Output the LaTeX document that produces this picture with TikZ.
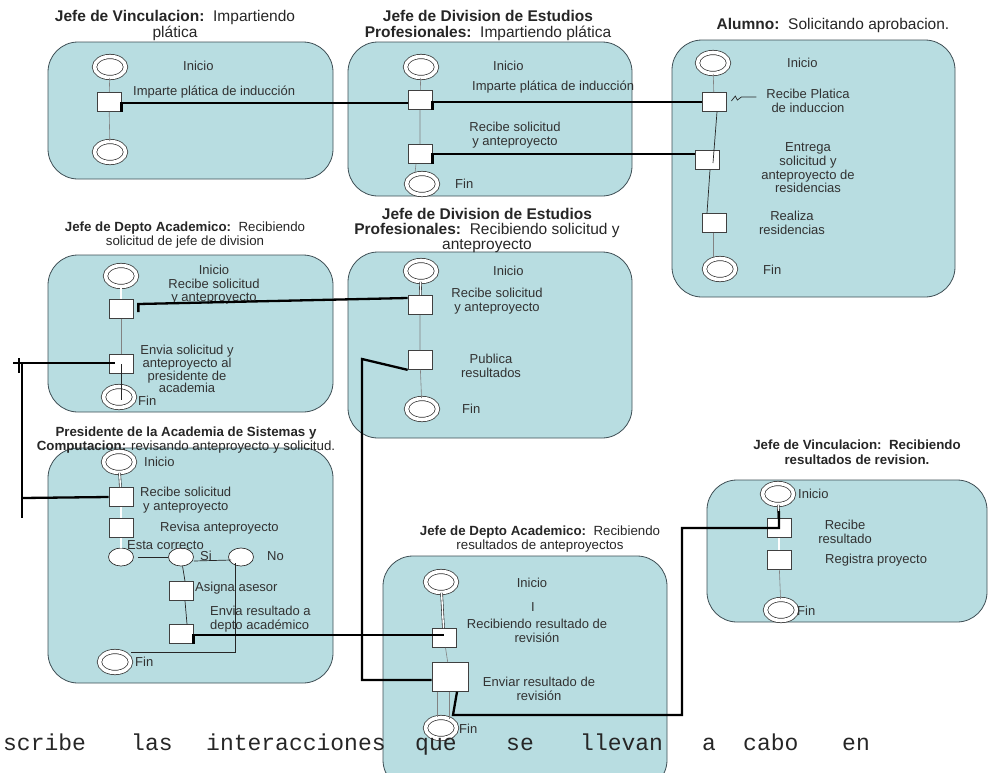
\documentclass[tikz,border=0pt]{standalone}
\usepackage{fontspec}
\setmainfont{Liberation Sans}
\newfontfamily\monofont{Liberation Mono}
\usetikzlibrary{shapes.geometric,calc}
\definecolor{panelfill}{RGB}{184,221,225}
\definecolor{panelline}{RGB}{62,78,84}
\definecolor{labeltext}{RGB}{50,50,50}
\definecolor{lifegray}{RGB}{130,130,130}
\begin{document}
\begin{tikzpicture}[x=1pt,y=-1pt,
  panel/.style={draw=panelline, fill=panelfill, line width=0.8pt, rounded corners=30pt},
  act/.style={rectangle, draw=black!75, fill=white, line width=0.7pt,
    minimum width=24pt, minimum height=19pt, inner sep=0pt},
  bigact/.style={act, minimum width=36pt, minimum height=29pt},
  term/.style={ellipse, draw=black!80, fill=white, line width=0.75pt,
    double=white, double distance=3.6pt, minimum width=31pt, minimum height=21pt, inner sep=0pt},
  choice/.style={ellipse, draw=black!80, fill=white, line width=0.7pt,
    minimum width=25pt, minimum height=18pt, inner sep=0pt},
  lbl/.style={text=labeltext, font=\fontsize{13}{13.5}\selectfont, inner sep=0pt, align=center},
  lbll/.style={lbl, anchor=west, align=left},
  ttl/.style={text=black!85, font=\fontsize{15.5}{16}\selectfont, inner sep=0pt, align=center},
  ttlsm/.style={text=black!85, font=\fontsize{13.3}{14.5}\selectfont, inner sep=0pt, align=center},
  words/.style={anchor=base west, inner sep=0pt, text=black!85, text height=11pt,
    font=\monofont\fontsize{23}{24}\selectfont},
  conn/.style={line width=2.3pt, black},
  life/.style={line width=0.6pt, lifegray},
  thinblk/.style={line width=0.7pt, black!85},
  dbl/.style={line width=0.6pt, black!85, double=white, double distance=1.4pt}
]
\useasboundingbox (0,0) rectangle (989,772);

% ---------- swimlane panels ----------
\path[panel] (48,42) rectangle (333,179);
\path[panel] (348,42) rectangle (632,196);
\path[panel] (672,40) rectangle (955,297);
\path[panel] (48,255) rectangle (333,412);
\path[panel] (348,252) rectangle (632,438);
\path[panel] (48,448) rectangle (333,683);
\path[panel] (707,480) rectangle (987,622);
\path[panel] (383,556) rectangle (667,790);

% ---------- titles ----------
\node[ttl] (t1) at (175,25) {\textbf{Jefe de Vinculacion:}\ \ Impartiendo\\plática};
\node[ttl] (t2) at (488,25) {\textbf{Jefe de Division de Estudios}\\\textbf{Profesionales:}\ \ Impartiendo plática};
\node[ttl] (t3) at (833,25) {\textbf{Alumno:}\ \ Solicitando aprobacion.};
\node[ttlsm] (t4) at (185,235) {\textbf{Jefe de Depto Academico:}\ \ Recibiendo\\solicitud de jefe de division};
\node[ttl, font=\fontsize{15.5}{15}\selectfont] (t5) at (487,230) {\textbf{Jefe de Division de Estudios}\\\textbf{Profesionales:}\ \ Recibiendo solicitud y\\anteproyecto};
\node[ttlsm] (t6) at (186,440) {\textbf{Presidente de la Academia de Sistemas y}\\\textbf{Computacion:} revisando anteproyecto y solicitud.};
\node[ttlsm] (t7) at (857,452) {\textbf{Jefe de Vinculacion:\ \ Recibiendo}\\\textbf{resultados de revision.}};
\node[ttlsm] (t8) at (540,539) {\textbf{Jefe de Depto Academico:}\ \ Recibiendo\\resultados de anteproyectos};

% ---------- panel 1 ----------
\node[term] (p1s) at (110,67) {};
\node[act]  (a1)  at (109,102) {};
\node[term] (p1e) at (110,152) {};
\node[lbll] (l1a) at (183,66) {Inicio};
\node[lbll] (l1b) at (133,92) {Imparte plática de inducción};
\draw[life] (p1s) -- (a1) -- (p1e);

% ---------- panel 2 ----------
\node[term] (p2s) at (421,67) {};
\node[act]  (a2)  at (420,100) {};
\node[act]  (a2b) at (420,154) {};
\node[term] (p2e) at (422,184) {};
\node[lbll] (l2a) at (493,66) {Inicio};
\node[lbll] (l2b) at (472,87) {Imparte plática de inducción};
\node[lbl]  (l2c) at (515,135) {Recibe solicitud\\y anteproyecto};
\node[lbll] (l2d) at (455,184) {Fin};
\draw[life] (p2s) -- (a2) -- (a2b);
\draw[life] ($(a2b.south)+(-4,0)$) -- ($(p2e.north)+(-7,0)$);

% ---------- panel 3 ----------
\node[term] (p3s) at (713,63) {};
\node[act]  (b1)  at (714,102) {};
\node[act]  (b2)  at (707,160) {};
\node[act]  (b3)  at (714,223) {};
\node[term] (p3e) at (720,269) {};
\node[lbll] (l3a) at (787,63) {Inicio};
\node[lbl]  (l3b) at (808,101) {Recibe Platica\\de induccion};
\node[lbl, font=\fontsize{13}{13.7}\selectfont] (l3c) at (808,168) {Entrega\\solicitud y\\anteproyecto de\\residencias};
\node[lbl]  (l3d) at (792,223) {Realiza\\residencias};
\node[lbll] (l3e) at (763,270) {Fin};
\draw[life] (p3s) -- (b1);
\draw[thinblk] ($(b1.south)+(3,0)$) -- ($(b2.center)+(6,3)$);
\draw[thinblk] ($(b2.south)+(3,0)$) -- ($(b3.north)+(-7,0)$);
\draw[life] ($(b3.south)+(-1,0)$) -- ($(p3e.north)+(-7,0)$);
\draw[thinblk] ($(b1.east)+(5,-1)$) -- ++(4,-5) -- ++(2,4) -- ++(4,-3) -- ++(15,0);

% ---------- panel 4 ----------
\node[term] (d0s) at (121,276) {};
\node[act]  (d1)  at (121,309) {};
\node[act]  (d2)  at (121,364) {};
\node[term] (d0e) at (119,397) {};
\node[lbl]  (l4a) at (214,285) {Inicio\\Recibe solicitud\\y anteproyecto};
\node[lbl, font=\fontsize{13}{12.7}\selectfont] (l4b) at (187,369) {Envia solicitud y\\anteproyecto al\\presidente de\\academia};
\node[lbll] (l4c) at (138,401) {Fin};
\draw[dbl] (d0s) -- (d1);
\draw[life] (d1) -- (d2);
\draw[thinblk] (d2.center) -- ($(d0e.center)+(2,3)$);

% ---------- panel 5 ----------
\node[term] (e0s) at (421,271) {};
\node[act]  (e1)  at (420,305) {};
\node[act]  (e2)  at (420,360) {};
\node[term] (e0e) at (422,409) {};
\node[lbll] (l5a) at (493,271) {Inicio};
\node[lbl]  (l5b) at (497,301) {Recibe solicitud\\y anteproyecto};
\node[lbl]  (l5c) at (491,366) {Publica\\resultados};
\node[lbll] (l5d) at (462,409) {Fin};
\draw[dbl] (e0s) -- (e1);
\draw[life] (e1) -- (e2) -- (e0e);

% ---------- panel 6 ----------
\node[term]   (f0s) at (119,462) {};
\node[act]    (f1)  at (121,497) {};
\node[act]    (f2)  at (121,528) {};
\node[choice] (k1)  at (121,557) {};
\node[choice] (k2)  at (181,557) {};
\node[choice] (k3)  at (241,557) {};
\node[act]    (f3)  at (181,591) {};
\node[act]    (f4)  at (181,634) {};
\node[term]   (f0e) at (115,662) {};
\node[lbll] (l6a) at (144,462) {Inicio};
\node[lbll] (l6b) at (140,500) {Recibe solicitud\\\hspace*{3pt}y anteproyecto};
\node[lbll] (l6c) at (160,528) {Revisa anteproyecto};
\node[lbll] (l6d) at (127,545) {Esta correcto};
\node[lbll] (l6e) at (200,556) {Si};
\node[lbll] (l6f) at (267,556) {No};
\node[lbll] (l6g) at (195,588) {Asigna asesor};
\node[lbll] (l6h) at (210,619) {Envia resultado a\\depto académico};
\node[lbll] (l6i) at (135,662) {Fin};
\draw[dbl] (f0s) -- (f1);
\draw[dbl] (f1) -- (f2);
\draw[dbl] (f2) -- (k1);
\draw[thinblk] ($(k1.east)+(4,0)$) -- (k2.west);
\draw[thinblk] ($(k2.east)+(0,4)$) -- ($(k3.west)+(3,3)$);
\coordinate (nb) at (235,652);
\draw[thinblk] ($(k3.center)+(-6,6)$) -- (nb) -- (nb -| f0e.east);
\draw[thinblk] (k2) -- ($(f3.north)+(4,0)$);
\draw[thinblk] ($(f3.south)+(4,0)$) -- ($(f4.north)+(6,0)$);

% ---------- panel 7 ----------
\node[term] (g0s) at (778,494) {};
\node[act]  (g1)  at (779,528) {};
\node[act]  (g2)  at (779,560) {};
\node[term] (g0e) at (781,610) {};
\node[lbll] (l7a) at (798,494) {Inicio};
\node[lbl]  (l7b) at (845,532) {Recibe\\resultado};
\node[lbll] (l7c) at (825,560) {Registra proyecto};
\node[lbll] (l7d) at (797,611) {Fin};
\draw[dbl] (g0s) -- (g1);
\draw[dbl] (g1) -- (g2);
\draw[life] (g2) -- (g0e);

% ---------- panel 8 ----------
\node[term]   (h0s) at (441,582) {};
\node[act]    (h1)  at (444,638) {};
\node[bigact] (h2)  at (450,677) {};
\node[term]   (h0e) at (441,728) {};
\node[lbl]  (l8a) at (532,583) {Inicio};
\node[lbl]  (l8b) at (533,607) {I};
\node[lbl]  (l8c) at (537,631) {Recibiendo resultado de\\revisión};
\node[lbl]  (l8d) at (539,689) {Enviar resultado de\\revisión};
\node[lbll] (l8e) at (459,729) {Fin};
\draw[dbl] (h0s) -- (h1);
\draw[life] (h1) -- (h2);
\draw[life] ($(h2.south)+(-13,0)$) -- ($(h0e.north)+(-4,0)$);
\draw[life] ($(h2.south)+(-1,0)$) -- ($(h0e.north)+(8,2)$);

% ---------- message connectors ----------
\draw[conn] (a1.south east) -- ($(a1.east)+(0,1)$) -- ($(a2.west)+(0,3)$);
\draw[conn] (a2.south east) -- ($(a2.east)+(0,2)$) -- (b1.west);
\draw[conn] (a2b.south east) -- (a2b.east) -- ($(b2.west)+(0,-6)$);
\draw[conn] ($(d1.east)+(5,3)$) -- ($(d1.east)+(5,-5)$) -- ($(e1.west)+(0,-7)$);
\coordinate (lh) at (13,363);
\coordinate (lvt) at (22,363);
\coordinate (lvb) at (22,518);
\coordinate (lj) at (22,498);
\draw[conn] ($(d2.west)+(6,-1)$) -- (lh);
\draw[conn] (lvt) -- (lvb);
\draw[conn] (lj) -- (f1.west);
\draw[conn] (19,358) -- (19,373);
\coordinate (r1) at (362,359);
\coordinate (h2w) at ($(h2.west)+(0,3)$);
\draw[conn] (e2.south west) -- (r1) -- (r1 |- h2w) -- (h2w);
\draw[conn] (f4.south east) -- ($(f4.east)+(0,1)$) -- ($(h1.center)+(0,-3)$);
\coordinate (s1) at (453,715);
\coordinate (s2) at (682,715);
\draw[conn] ($(h2.south)+(7,0)$) -- (s1) -- (s2) -- (s2 |- g1) -- (g1.center) -- ($(g1.north)+(0,-7)$);

% ---------- running text below ----------
\node[words] (w1) at (3,750) {scribe};
\node[words] (w2) at (131,750) {las};
\node[words] (w3) at (206,750) {interacciones};
\node[words] (w4) at (415,750) {que};
\node[words] (w5) at (506,750) {se};
\node[words] (w6) at (580,750) {llevan};
\node[words] (w7) at (702,750) {a};
\node[words] (w8) at (743,750) {cabo};
\node[words] (w9) at (842,750) {en};
\end{tikzpicture}
\end{document}
